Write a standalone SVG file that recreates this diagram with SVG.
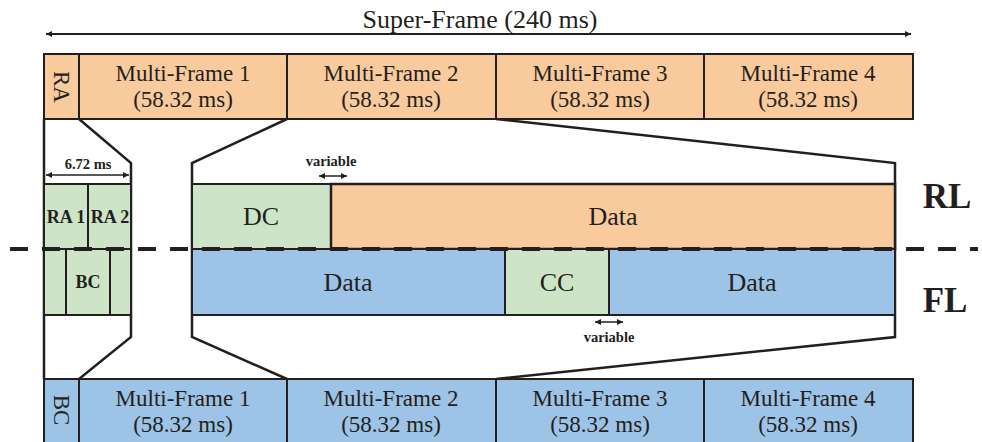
<svg xmlns="http://www.w3.org/2000/svg" width="982" height="442" viewBox="0 0 982 442">
<defs>
<marker id="ah" viewBox="0 0 10 10" refX="10" refY="5" markerWidth="6" markerHeight="6" orient="auto-start-reverse" markerUnits="userSpaceOnUse"><path d="M0,0 L10,5 L0,10 Z" fill="#231F20"/></marker>
<marker id="ahs" viewBox="0 0 10 10" refX="10" refY="5" markerWidth="6" markerHeight="6" orient="auto-start-reverse" markerUnits="userSpaceOnUse"><path d="M0,0 L10,5 L0,10 Z" fill="#231F20"/></marker>
</defs>
<style>
.o{fill:#F9CA9C;stroke:#231F20;stroke-width:2}
.b{fill:#9DC3E6;stroke:#231F20;stroke-width:2}
.g{fill:#CDE4C6;stroke:#231F20;stroke-width:2}
.ln{fill:none;stroke:#231F20;stroke-width:2.5;stroke-linejoin:miter}
.t{font-family:"Liberation Serif","Times New Roman",serif;fill:#231F20;text-anchor:middle}
.mf{font-size:23px}
.big{font-size:26px}
.bd{font-weight:bold}
</style>
<rect width="982" height="442" fill="#fff"/>
<g id="superframe">
<line x1="46" y1="34" x2="911" y2="34" stroke="#231F20" stroke-width="2" marker-start="url(#ah)" marker-end="url(#ah)"/>
<text class="t" x="480" y="28" font-size="26">Super-Frame (240 ms)</text>
</g>
<g id="ra-row">
<rect class="o" x="44" y="54" width="35" height="65"/>
<text class="t mf" transform="translate(54,87) rotate(90)">RA</text>
<rect class="o" x="79" y="54" width="208" height="65"/>
<text class="t mf" x="183" y="81">Multi-Frame 1</text><text class="t mf" x="183" y="107">(58.32 ms)</text>
<rect class="o" x="287" y="54" width="209" height="65"/>
<text class="t mf" x="391" y="81">Multi-Frame 2</text><text class="t mf" x="391" y="107">(58.32 ms)</text>
<rect class="o" x="496" y="54" width="208" height="65"/>
<text class="t mf" x="600" y="81">Multi-Frame 3</text><text class="t mf" x="600" y="107">(58.32 ms)</text>
<rect class="o" x="704" y="54" width="209" height="65"/>
<text class="t mf" x="808" y="81">Multi-Frame 4</text><text class="t mf" x="808" y="107">(58.32 ms)</text>
</g>
<g id="bc-row">
<rect class="b" x="44" y="379" width="35" height="70"/>
<text class="t mf" transform="translate(54,410) rotate(90)">BC</text>
<rect class="b" x="79" y="379" width="208" height="70"/>
<text class="t mf" x="183" y="406">Multi-Frame 1</text><text class="t mf" x="183" y="432">(58.32 ms)</text>
<rect class="b" x="287" y="379" width="209" height="70"/>
<text class="t mf" x="391" y="406">Multi-Frame 2</text><text class="t mf" x="391" y="432">(58.32 ms)</text>
<rect class="b" x="496" y="379" width="208" height="70"/>
<text class="t mf" x="600" y="406">Multi-Frame 3</text><text class="t mf" x="600" y="432">(58.32 ms)</text>
<rect class="b" x="704" y="379" width="209" height="70"/>
<text class="t mf" x="808" y="406">Multi-Frame 4</text><text class="t mf" x="808" y="432">(58.32 ms)</text>
</g>
<g id="connectors">
<path class="ln" d="M44,119 V379"/>
<path class="ln" d="M79,119 L131,163 V337 L79,379"/>
<path class="ln" d="M287,119 L192,163 V337 L287,379"/>
<path class="ln" d="M496,119 L895,163 V337 L496,379"/>
<line x1="44" y1="184" x2="131" y2="184" stroke="#231F20" stroke-width="2"/>
<line x1="192" y1="184" x2="895" y2="184" stroke="#231F20" stroke-width="2"/>
</g>
<g id="left-slot">
<rect class="g" x="44" y="184" width="44" height="65"/>
<rect class="g" x="88" y="184" width="43" height="65"/>
<rect class="g" x="44" y="249" width="22" height="66"/>
<rect class="g" x="66" y="249" width="44" height="66"/>
<rect class="g" x="110" y="249" width="21" height="66"/>
<text class="t bd" x="66" y="223" font-size="18">RA 1</text>
<text class="t bd" x="110" y="223" font-size="18">RA 2</text>
<text class="t bd" x="88" y="288" font-size="18">BC</text>
<line x1="46" y1="175" x2="129" y2="175" stroke="#231F20" stroke-width="1.5" marker-start="url(#ahs)" marker-end="url(#ahs)"/>
<text class="t bd" x="88" y="169" font-size="14.5">6.72 ms</text>
</g>
<g id="rl">
<rect class="g" x="192" y="184" width="139" height="65"/>
<text class="t big" x="261" y="225">DC</text>
<rect class="o" x="331" y="184" width="564" height="65" style="stroke-width:2.5"/>
<text class="t big" x="613" y="225">Data</text>
</g>
<g id="fl">
<rect class="b" x="192" y="249" width="313" height="66"/>
<text class="t big" x="348" y="291">Data</text>
<rect class="g" x="505" y="249" width="104" height="66"/>
<text class="t big" x="557" y="291">CC</text>
<rect class="b" x="609" y="249" width="286" height="66"/>
<text class="t big" x="752" y="291">Data</text>
</g>
<g id="variable-top">
<line x1="319" y1="176" x2="347" y2="176" stroke="#231F20" stroke-width="1.5" marker-start="url(#ahs)" marker-end="url(#ahs)"/>
<text class="t bd" x="331" y="166" font-size="14.5">variable</text>
</g>
<g id="variable-bottom">
<line x1="595" y1="322" x2="623" y2="322" stroke="#231F20" stroke-width="1.5" marker-start="url(#ahs)" marker-end="url(#ahs)"/>
<text class="t bd" x="609" y="342" font-size="14.5">variable</text>
</g>
<g id="divider">
<line x1="10" y1="249" x2="978" y2="249" stroke="#231F20" stroke-width="4" stroke-dasharray="18 14"/>
</g>
<g id="labels">
<text class="t bd" x="947" y="208" font-size="35">RL</text>
<text class="t bd" x="945" y="312" font-size="35">FL</text>
</g>
</svg>
